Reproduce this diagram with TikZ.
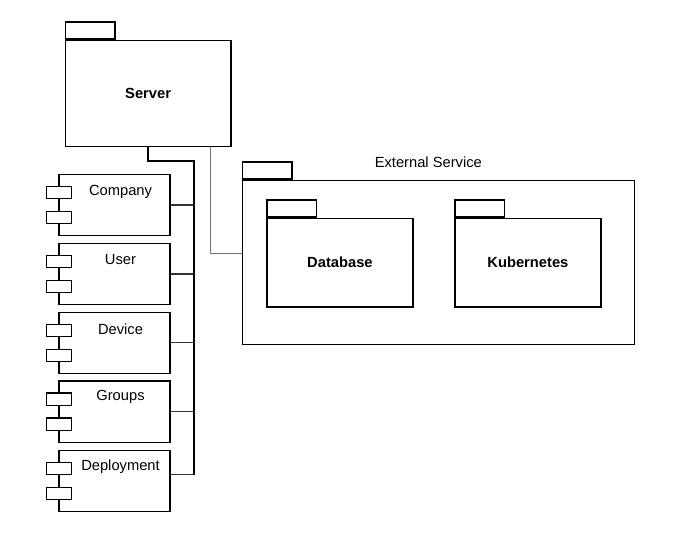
\documentclass[tikz,border=0pt]{standalone}
\usepackage{fontspec}
\setmainfont{Liberation Sans}
\begin{document}
\begin{tikzpicture}[x=1pt,y=-1pt,
  every node/.style={font=\fontsize{14.7}{17}\selectfont},
  pkg/.style={draw=black, line width=1.25pt, fill=white, anchor=north west, inner sep=0pt, font=\fontsize{14.7}{17}\selectfont\bfseries},
  tabbox/.style={draw=black, line width=1.25pt, fill=white, anchor=south west, inner sep=0pt, minimum width=49.6pt, minimum height=17pt},
  comp/.style={draw=black, line width=1.25pt, fill=white, anchor=north west, inner sep=0pt, minimum width=111pt, minimum height=61.5pt},
  port/.style={draw=black, line width=1.25pt, fill=white, anchor=north west, inner sep=0pt, minimum width=25pt, minimum height=12.4pt},
  lbl/.style={inner sep=0pt},
  bus/.style={draw=black, line width=1.9pt},
  conn/.style={draw=black!80, line width=1.2pt},
  grayline/.style={draw=black!55, line width=1.7pt}]
\useasboundingbox (0,0) rectangle (684,533);

% Server package
\node[pkg, minimum width=165.6pt, minimum height=106.3pt] (server) at (64.7,39.7) {Server};
\node[tabbox] (servertab) at (server.north west) {};

% External service package
\node[pkg, minimum width=392.3pt, minimum height=164.3pt] (ext) at (241.7,179.7) {};
\node[tabbox] (exttab) at (ext.north west) {};
\node[lbl] (extlabel) at (428.3,162) {External Service};

% Database and Kubernetes
\node[pkg, minimum width=146pt, minimum height=88.6pt] (db) at (266.3,217.7) {Database};
\node[tabbox] (dbtab) at (db.north west) {};
\node[pkg, minimum width=146pt, minimum height=88.6pt] (k8s) at (454.3,217.7) {Kubernetes};
\node[tabbox] (k8stab) at (k8s.north west) {};

% Components
\foreach \n/\t/\y/\ly in {company/Company/173.7/18.5, user/User/242.7/16.5, device/Device/311.5/17.5, groups/Groups/380.3/16.5, deploy/Deployment/449.7/17}{
  \node[comp] (\n) at (58.3,\y) {};
  \node[port] (\n-p1) at (45.7,\y+12) {};
  \node[port] (\n-p2) at (45.7,\y+37) {};
  \node[lbl] (\n-label) at (120.5,\y+\ly) {\t};
}

% Bus from server
\coordinate (j1) at (194,161);
\coordinate (dj) at ([yshift=6.5pt]deploy.east);
\foreach \n in {company,user,device,groups}{
  \draw[conn] (\n.east) -- (\n.east -| j1);
}
\draw[conn] (dj) -- (dj -| j1);
\draw[bus] (server.south) |- (j1) -- (j1 |- dj);

% Server to external service
\draw[grayline] ([xshift=62.5pt]server.south) |- ([yshift=8.85pt]ext.west);
\end{tikzpicture}
\end{document}
